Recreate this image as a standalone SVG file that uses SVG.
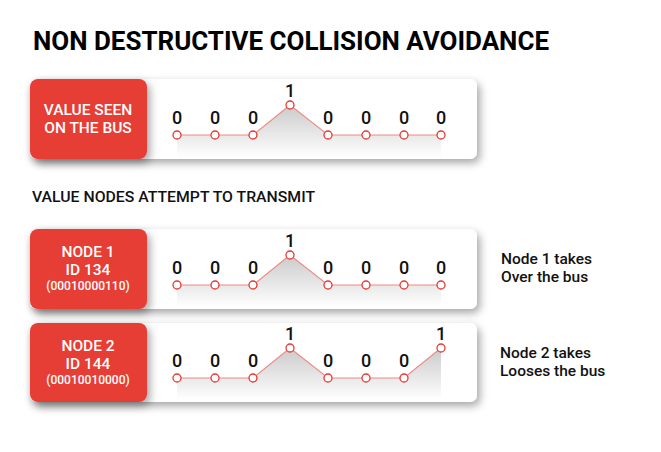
<svg xmlns="http://www.w3.org/2000/svg" width="661" height="452" viewBox="0 0 661 452">
<defs>
<filter id="sh" x="-10%" y="-20%" width="125%" height="160%">
<feDropShadow dx="3" dy="4" stdDeviation="4" flood-color="#000" flood-opacity="0.35"/>
</filter>
<linearGradient id="g" x1="0" y1="0" x2="0" y2="1">
<stop offset="0" stop-color="#bdbdbd"/>
<stop offset="1" stop-color="#ffffff"/>
</linearGradient>
<style>
.panel{fill:#fff;filter:url(#sh)}
.red{fill:#e63c36;filter:url(#sh)}
.lbl{font-family:Roboto,"Liberation Sans",sans-serif;font-weight:500;fill:#fff;text-anchor:middle}
.big{font-size:15.5px}
.small{font-size:12px}
.dig{font-family:Roboto,"Liberation Sans",sans-serif;font-size:18px;font-weight:500;fill:#111;text-anchor:middle}
.line{fill:none;stroke:#ef8a84;stroke-width:1.2}
.area{fill:url(#g);opacity:0.8}
.pt{fill:#fff;stroke:#e53935;stroke-width:1.3}
.note{font-family:Roboto,"Liberation Sans",sans-serif;font-size:15.5px;font-weight:500;fill:#111}
</style>
</defs>
<rect width="661" height="452" fill="#fff"/>
<text x="33" y="50" font-family="Roboto,'Liberation Sans',sans-serif" font-weight="700" font-size="25" fill="#000" textLength="516" lengthAdjust="spacingAndGlyphs">NON DESTRUCTIVE COLLISION AVOIDANCE</text>
<text x="32" y="202" font-family="Roboto,'Liberation Sans',sans-serif" font-weight="500" font-size="15.5" fill="#111" textLength="283" lengthAdjust="spacingAndGlyphs">VALUE NODES ATTEMPT TO TRANSMIT</text>

<g id="bus">
<rect class="panel" x="30" y="79" width="447" height="80" rx="7"/>
<polygon class="area" points="177,135 215,135 253,135 290,105 328,135 366,135 404,135 441,135 441,157 177,157"/>
<polyline class="line" points="177,135 215,135 253,135 290,105 328,135 366,135 404,135 441,135"/>
<g>
<circle class="pt" cx="177" cy="135" r="4"/><circle class="pt" cx="215" cy="135" r="4"/><circle class="pt" cx="253" cy="135" r="4"/><circle class="pt" cx="290" cy="105" r="4"/><circle class="pt" cx="328" cy="135" r="4"/><circle class="pt" cx="366" cy="135" r="4"/><circle class="pt" cx="404" cy="135" r="4"/><circle class="pt" cx="441" cy="135" r="4"/>
</g>
<text class="dig" x="177" y="124">0</text><text class="dig" x="215" y="124">0</text><text class="dig" x="253" y="124">0</text><text class="dig" x="290" y="97">1</text><text class="dig" x="328" y="124">0</text><text class="dig" x="366" y="124">0</text><text class="dig" x="404" y="124">0</text><text class="dig" x="441" y="124">0</text>
<rect class="red" x="30" y="79" width="117" height="80" rx="8"/>
<text class="lbl big" x="88" y="115">VALUE SEEN</text>
<text class="lbl big" x="88" y="133">ON THE BUS</text>
</g>

<g id="node1">
<rect class="panel" x="30" y="229" width="447" height="80" rx="7"/>
<polygon class="area" points="177,285 215,285 253,285 290,255 328,285 366,285 404,285 441,285 441,307 177,307"/>
<polyline class="line" points="177,285 215,285 253,285 290,255 328,285 366,285 404,285 441,285"/>
<circle class="pt" cx="177" cy="285" r="4"/><circle class="pt" cx="215" cy="285" r="4"/><circle class="pt" cx="253" cy="285" r="4"/><circle class="pt" cx="290" cy="255" r="4"/><circle class="pt" cx="328" cy="285" r="4"/><circle class="pt" cx="366" cy="285" r="4"/><circle class="pt" cx="404" cy="285" r="4"/><circle class="pt" cx="441" cy="285" r="4"/>
<text class="dig" x="177" y="274">0</text><text class="dig" x="215" y="274">0</text><text class="dig" x="253" y="274">0</text><text class="dig" x="290" y="247">1</text><text class="dig" x="328" y="274">0</text><text class="dig" x="366" y="274">0</text><text class="dig" x="404" y="274">0</text><text class="dig" x="441" y="274">0</text>
<rect class="red" x="30" y="229" width="117" height="80" rx="8"/>
<text class="lbl big" x="88" y="257">NODE 1</text>
<text class="lbl big" x="88" y="275">ID 134</text>
<text class="lbl small" x="88" y="290">(00010000110)</text>
</g>

<g id="node2">
<rect class="panel" x="30" y="323" width="447" height="79" rx="7"/>
<polygon class="area" points="177,378 215,378 253,378 290,348 328,378 366,378 404,378 441,348 441,400 177,400"/>
<polyline class="line" points="177,378 215,378 253,378 290,348 328,378 366,378 404,378 441,348"/>
<circle class="pt" cx="177" cy="378" r="4"/><circle class="pt" cx="215" cy="378" r="4"/><circle class="pt" cx="253" cy="378" r="4"/><circle class="pt" cx="290" cy="348" r="4"/><circle class="pt" cx="328" cy="378" r="4"/><circle class="pt" cx="366" cy="378" r="4"/><circle class="pt" cx="404" cy="378" r="4"/><circle class="pt" cx="441" cy="348" r="4"/>
<text class="dig" x="177" y="367">0</text><text class="dig" x="215" y="367">0</text><text class="dig" x="253" y="367">0</text><text class="dig" x="290" y="340">1</text><text class="dig" x="328" y="367">0</text><text class="dig" x="366" y="367">0</text><text class="dig" x="404" y="367">0</text><text class="dig" x="441" y="340">1</text>
<rect class="red" x="30" y="323" width="117" height="79" rx="8"/>
<text class="lbl big" x="88" y="351">NODE 2</text>
<text class="lbl big" x="88" y="369">ID 144</text>
<text class="lbl small" x="88" y="384">(00010010000)</text>
</g>

<g id="notes">
<text class="note" x="501" y="264">Node 1 takes</text>
<text class="note" x="501" y="282">Over the bus</text>
<text class="note" x="500" y="358">Node 2 takes</text>
<text class="note" x="500" y="376">Looses the bus</text>
</g>
<g id="connectors"/>
</svg>
